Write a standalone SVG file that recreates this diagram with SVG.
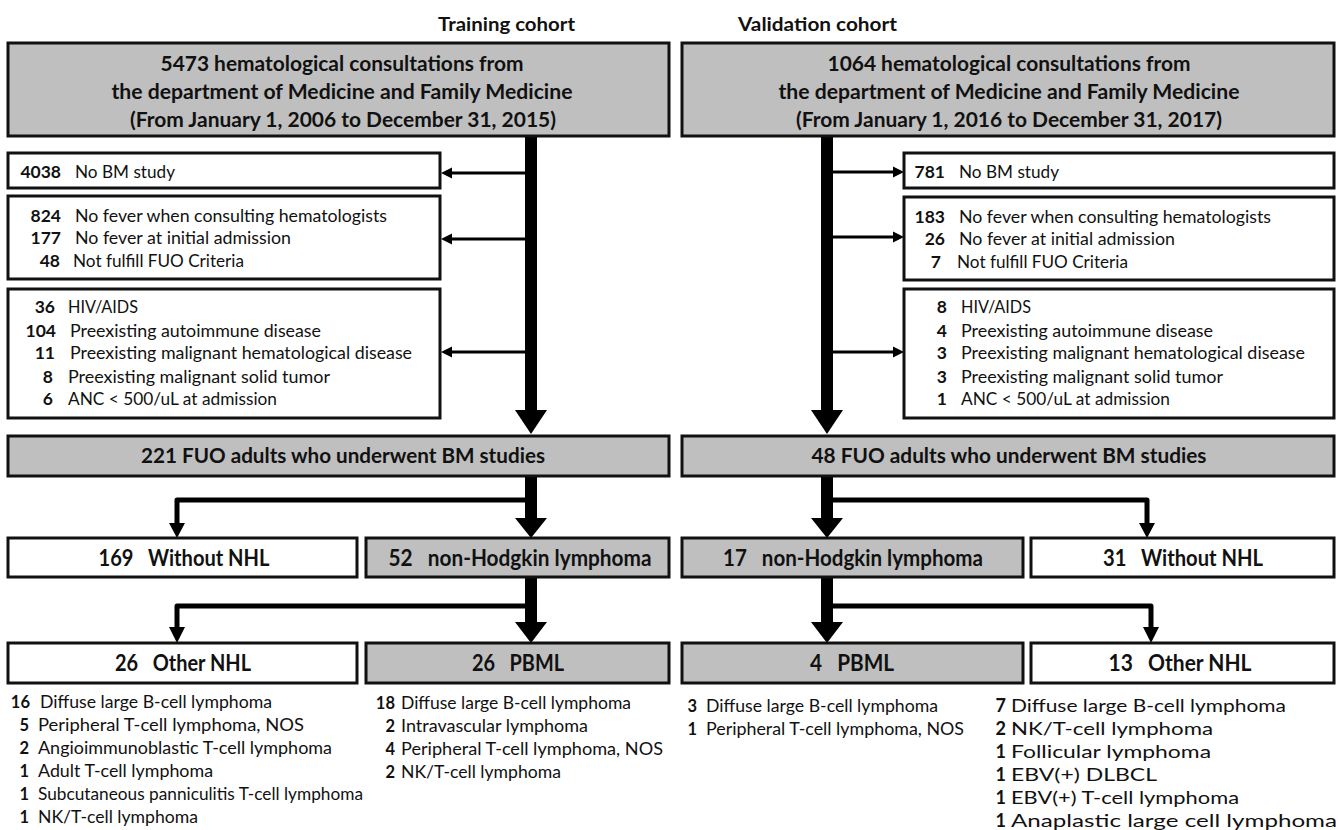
<svg xmlns="http://www.w3.org/2000/svg" width="1338" height="830" viewBox="0 0 1338 830">
<style>
text{font-family:Lato,"Open Sans","Liberation Sans",sans-serif;fill:#111}
.b{font-weight:bold}
.ttl{font-size:19px;font-weight:bold}
.top{font-size:21.5px;font-weight:bold;text-anchor:middle}
.ex{font-size:17.5px}
.exn{font-size:17.5px;font-weight:bold;text-anchor:end}
.mid{font-size:20.5px;font-weight:bold;text-anchor:middle}
.big{font-size:22.5px;font-weight:bold;text-anchor:middle;white-space:pre}
.li{font-size:16.5px}
.lin{font-size:16.5px;font-weight:bold;text-anchor:end}
.li2{font-size:18px}
.lin2{font-size:18px;font-weight:bold;text-anchor:end}
.w{fill:#fff;stroke:#111;stroke-width:3}
.g{fill:#bfbfbf;stroke:#111;stroke-width:3}
.thick{stroke:#000;stroke-width:12;fill:none}
.thin{stroke:#000;stroke-width:3;fill:none}
.br{stroke:#000;stroke-width:5;fill:none;stroke-linejoin:round}
.hd{fill:#000}
</style>

<g id="titles">
<text class="ttl" x="438" y="31" textLength="137" lengthAdjust="spacingAndGlyphs">Training cohort</text>
<text class="ttl" x="738" y="31" textLength="159" lengthAdjust="spacingAndGlyphs">Validation cohort</text>
</g>

<g id="connectors">
<line class="thick" x1="531" y1="136" x2="531" y2="412"/>
<polygon class="hd" points="515,410 547,410 531,434"/>
<line class="thick" x1="827" y1="136" x2="827" y2="412"/>
<polygon class="hd" points="811,410 843,410 827,434"/>
<line class="thin" x1="526" y1="173" x2="448" y2="173"/>
<polygon class="hd" points="441,173 452,167.5 452,178.5"/>
<line class="thin" x1="526" y1="239" x2="448" y2="239"/>
<polygon class="hd" points="441,239 452,233.5 452,244.5"/>
<line class="thin" x1="526" y1="352" x2="448" y2="352"/>
<polygon class="hd" points="441,352 452,346.5 452,357.5"/>
<line class="thin" x1="832" y1="172" x2="897" y2="172"/>
<polygon class="hd" points="904,172 893,166.5 893,177.5"/>
<line class="thin" x1="832" y1="237" x2="897" y2="237"/>
<polygon class="hd" points="904,237 893,231.5 893,242.5"/>
<line class="thin" x1="832" y1="352" x2="897" y2="352"/>
<polygon class="hd" points="904,352 893,346.5 893,357.5"/>

<line class="thick" x1="531" y1="476" x2="531" y2="520"/>
<polygon class="hd" points="515,518 547,518 531,538"/>
<path class="br" d="M531,500 H177 V525"/>
<polygon class="hd" points="169,523 185,523 177,538"/>
<line class="thick" x1="827" y1="476" x2="827" y2="520"/>
<polygon class="hd" points="811,518 843,518 827,538"/>
<path class="br" d="M827,500 H1147 V525"/>
<polygon class="hd" points="1139,523 1155,523 1147,538"/>

<line class="thick" x1="531" y1="577" x2="531" y2="624"/>
<polygon class="hd" points="515,622 547,622 531,643"/>
<path class="br" d="M531,606 H177 V629"/>
<polygon class="hd" points="169,627 185,627 177,643"/>
<line class="thick" x1="827" y1="577" x2="827" y2="624"/>
<polygon class="hd" points="811,622 843,622 827,643"/>
<path class="br" d="M827,606 H1151 V629"/>
<polygon class="hd" points="1143,627 1159,627 1151,643"/>
</g>

<g id="train-top">
<rect class="g" x="8" y="43" width="661" height="93"/>
<text class="top" x="342" y="71" textLength="363" lengthAdjust="spacingAndGlyphs">5473 hematological consultations from</text>
<text class="top" x="342" y="99" textLength="461" lengthAdjust="spacingAndGlyphs">the department of Medicine and Family Medicine</text>
<text class="top" x="343" y="127" textLength="426" lengthAdjust="spacingAndGlyphs">(From January 1, 2006 to December 31, 2015)</text>
</g>
<g id="valid-top">
<rect class="g" x="682" y="43" width="652" height="93"/>
<text class="top" x="1009" y="71" textLength="363" lengthAdjust="spacingAndGlyphs">1064 hematological consultations from</text>
<text class="top" x="1009" y="99" textLength="461" lengthAdjust="spacingAndGlyphs">the department of Medicine and Family Medicine</text>
<text class="top" x="1009" y="127" textLength="426" lengthAdjust="spacingAndGlyphs">(From January 1, 2016 to December 31, 2017)</text>
</g>

<g id="train-ex1">
<rect class="w" x="8" y="153" width="432" height="35"/>
<text class="exn" x="61" y="178">4038</text>
<text class="ex" x="75" y="178" textLength="100" lengthAdjust="spacingAndGlyphs">No BM study</text>
</g>
<g id="train-ex2">
<rect class="w" x="8" y="196" width="432" height="83"/>
<text class="exn" x="61" y="222">824</text>
<text class="ex" x="75" y="222" textLength="312" lengthAdjust="spacingAndGlyphs">No fever when consulting hematologists</text>
<text class="exn" x="61" y="244">177</text>
<text class="ex" x="75" y="244" textLength="216" lengthAdjust="spacingAndGlyphs">No fever at initial admission</text>
<text class="exn" x="60" y="267">48</text>
<text class="ex" x="73" y="267" textLength="171" lengthAdjust="spacingAndGlyphs">Not fulfill FUO Criteria</text>
</g>
<g id="train-ex3">
<rect class="w" x="8" y="289" width="432" height="129"/>
<text class="exn" x="55" y="313">36</text>
<text class="ex" x="68" y="313" textLength="70" lengthAdjust="spacingAndGlyphs">HIV/AIDS</text>
<text class="exn" x="56" y="337">104</text>
<text class="ex" x="70" y="337" textLength="251" lengthAdjust="spacingAndGlyphs">Preexisting autoimmune disease</text>
<text class="exn" x="55" y="359">11</text>
<text class="ex" x="70" y="359" textLength="342" lengthAdjust="spacingAndGlyphs">Preexisting malignant hematological disease</text>
<text class="exn" x="53" y="383">8</text>
<text class="ex" x="68" y="383" textLength="262" lengthAdjust="spacingAndGlyphs">Preexisting malignant solid tumor</text>
<text class="exn" x="53" y="405">6</text>
<text class="ex" x="68" y="405" textLength="209" lengthAdjust="spacingAndGlyphs">ANC &lt; 500/uL at admission</text>
</g>

<g id="valid-ex1">
<rect class="w" x="904" y="153" width="430" height="35"/>
<text class="exn" x="945" y="178">781</text>
<text class="ex" x="959" y="178" textLength="100" lengthAdjust="spacingAndGlyphs">No BM study</text>
</g>
<g id="valid-ex2">
<rect class="w" x="904" y="197" width="430" height="83"/>
<text class="exn" x="945" y="223">183</text>
<text class="ex" x="959" y="223" textLength="312" lengthAdjust="spacingAndGlyphs">No fever when consulting hematologists</text>
<text class="exn" x="945" y="245">26</text>
<text class="ex" x="959" y="245" textLength="216" lengthAdjust="spacingAndGlyphs">No fever at initial admission</text>
<text class="exn" x="941" y="268">7</text>
<text class="ex" x="957" y="268" textLength="171" lengthAdjust="spacingAndGlyphs">Not fulfill FUO Criteria</text>
</g>
<g id="valid-ex3">
<rect class="w" x="904" y="289" width="430" height="129"/>
<text class="exn" x="947" y="313">8</text>
<text class="ex" x="961" y="313" textLength="70" lengthAdjust="spacingAndGlyphs">HIV/AIDS</text>
<text class="exn" x="947" y="337">4</text>
<text class="ex" x="961" y="337" textLength="252" lengthAdjust="spacingAndGlyphs">Preexisting autoimmune disease</text>
<text class="exn" x="947" y="359">3</text>
<text class="ex" x="961" y="359" textLength="344" lengthAdjust="spacingAndGlyphs">Preexisting malignant hematological disease</text>
<text class="exn" x="947" y="383">3</text>
<text class="ex" x="961" y="383" textLength="262" lengthAdjust="spacingAndGlyphs">Preexisting malignant solid tumor</text>
<text class="exn" x="947" y="405">1</text>
<text class="ex" x="961" y="405" textLength="209" lengthAdjust="spacingAndGlyphs">ANC &lt; 500/uL at admission</text>
</g>

<g id="train-fuo">
<rect class="g" x="8" y="436" width="661" height="40"/>
<text class="mid" x="343" y="463" textLength="404" lengthAdjust="spacingAndGlyphs">221 FUO adults who underwent BM studies</text>
</g>
<g id="valid-fuo">
<rect class="g" x="682" y="436" width="652" height="40"/>
<text class="mid" x="1009" y="463" textLength="395" lengthAdjust="spacingAndGlyphs">48 FUO adults who underwent BM studies</text>
</g>

<g id="train-without">
<rect class="w" x="8" y="538" width="349" height="39"/>
<text class="big" x="184" y="566" textLength="171" lengthAdjust="spacingAndGlyphs">169   Without NHL</text>
</g>
<g id="train-nhl">
<rect class="g" x="366" y="538" width="303" height="39"/>
<text class="big" x="520" y="566" textLength="263" lengthAdjust="spacingAndGlyphs">52   non-Hodgkin lymphoma</text>
</g>
<g id="valid-nhl">
<rect class="g" x="682" y="538" width="341" height="39"/>
<text class="big" x="853" y="566" textLength="260" lengthAdjust="spacingAndGlyphs">17   non-Hodgkin lymphoma</text>
</g>
<g id="valid-without">
<rect class="w" x="1031" y="538" width="303" height="39"/>
<text class="big" x="1183" y="566" textLength="160" lengthAdjust="spacingAndGlyphs">31   Without NHL</text>
</g>

<g id="train-other">
<rect class="w" x="8" y="643" width="349" height="40"/>
<text class="big" x="183" y="671" textLength="136" lengthAdjust="spacingAndGlyphs">26   Other NHL</text>
<text class="lin" x="30" y="708">16</text>
<text class="li" x="40" y="708" textLength="232" lengthAdjust="spacingAndGlyphs">Diffuse large B-cell lymphoma</text>
<text class="lin" x="29" y="731">5</text>
<text class="li" x="38" y="731" textLength="266" lengthAdjust="spacingAndGlyphs">Peripheral T-cell lymphoma, NOS</text>
<text class="lin" x="29" y="754">2</text>
<text class="li" x="38" y="754" textLength="294" lengthAdjust="spacingAndGlyphs">Angioimmunoblastic T-cell lymphoma</text>
<text class="lin" x="29" y="777">1</text>
<text class="li" x="38" y="777" textLength="175" lengthAdjust="spacingAndGlyphs">Adult T-cell lymphoma</text>
<text class="lin" x="29" y="800">1</text>
<text class="li" x="38" y="800" textLength="325" lengthAdjust="spacingAndGlyphs">Subcutaneous panniculitis T-cell lymphoma</text>
<text class="lin" x="29" y="823">1</text>
<text class="li" x="38" y="823" textLength="160" lengthAdjust="spacingAndGlyphs">NK/T-cell lymphoma</text>
</g>
<g id="train-pbml">
<rect class="g" x="366" y="643" width="303" height="40"/>
<text class="big" x="518" y="671" textLength="92" lengthAdjust="spacingAndGlyphs">26   PBML</text>
<text class="lin" x="395" y="709">18</text>
<text class="li" x="401" y="709" textLength="230" lengthAdjust="spacingAndGlyphs">Diffuse large B-cell lymphoma</text>
<text class="lin" x="395" y="732">2</text>
<text class="li" x="401" y="732" textLength="187" lengthAdjust="spacingAndGlyphs">Intravascular lymphoma</text>
<text class="lin" x="395" y="755">4</text>
<text class="li" x="401" y="755" textLength="262" lengthAdjust="spacingAndGlyphs">Peripheral T-cell lymphoma, NOS</text>
<text class="lin" x="395" y="778">2</text>
<text class="li" x="401" y="778" textLength="160" lengthAdjust="spacingAndGlyphs">NK/T-cell lymphoma</text>
</g>
<g id="valid-pbml">
<rect class="g" x="682" y="643" width="341" height="40"/>
<text class="big" x="852" y="671" textLength="84" lengthAdjust="spacingAndGlyphs">4   PBML</text>
<text class="lin" x="697" y="712">3</text>
<text class="li" x="706" y="712" textLength="232" lengthAdjust="spacingAndGlyphs">Diffuse large B-cell lymphoma</text>
<text class="lin" x="697" y="735">1</text>
<text class="li" x="706" y="735" textLength="258" lengthAdjust="spacingAndGlyphs">Peripheral T-cell lymphoma, NOS</text>
</g>
<g id="valid-other">
<rect class="w" x="1031" y="643" width="303" height="40"/>
<text class="big" x="1180" y="671" textLength="143" lengthAdjust="spacingAndGlyphs">13   Other NHL</text>
<text class="lin2" x="1006" y="712">7</text>
<text class="li2" x="1011" y="712" textLength="275" lengthAdjust="spacingAndGlyphs">Diffuse large B-cell lymphoma</text>
<text class="lin2" x="1006" y="735">2</text>
<text class="li2" x="1011" y="735" textLength="202" lengthAdjust="spacingAndGlyphs">NK/T-cell lymphoma</text>
<text class="lin2" x="1006" y="758">1</text>
<text class="li2" x="1011" y="758" textLength="200" lengthAdjust="spacingAndGlyphs">Follicular lymphoma</text>
<text class="lin2" x="1006" y="781">1</text>
<text class="li2" x="1011" y="781" textLength="146" lengthAdjust="spacingAndGlyphs">EBV(+) DLBCL</text>
<text class="lin2" x="1006" y="804">1</text>
<text class="li2" x="1011" y="804" textLength="228" lengthAdjust="spacingAndGlyphs">EBV(+) T-cell lymphoma</text>
<text class="lin2" x="1006" y="827">1</text>
<text class="li2" x="1011" y="827" textLength="326" lengthAdjust="spacingAndGlyphs">Anaplastic large cell lymphoma</text>
</g>
</svg>
